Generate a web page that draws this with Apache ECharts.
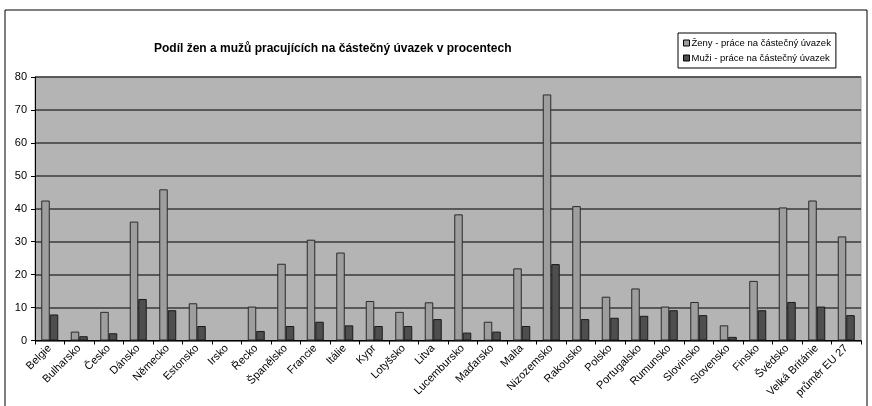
<!DOCTYPE html>
<html>
<head>
<meta charset="utf-8">
<script src="https://cdn.jsdelivr.net/npm/echarts@6/dist/echarts.min.js"></script>
<style>
html,body{margin:0;padding:0;background:#fff;}
#c{width:872px;height:406px;}
</style>
</head>
<body>
<div id="c"></div>
<script>
const categories = ["Belgie","Bulharsko","Česko","Dánsko","Německo","Estonsko","Irsko","Řecko","Španělsko","Francie","Itálie","Kypr","Lotyšsko","Litva","Lucembursko","Maďarsko","Malta","Nizozemsko","Rakousko","Polsko","Portugalsko","Rumunsko","Slovinsko","Slovensko","Finsko","Švédsko","Velká Británie","průměr EU 27"];
const zeny = [42.5,2.7,8.7,36.1,45.9,11.3,null,10.3,23.3,30.6,26.7,12.0,8.7,11.6,38.3,5.7,21.9,74.7,40.8,13.3,15.8,10.3,11.7,4.6,18.1,40.4,42.5,31.6];
const muzi = [7.9,1.3,2.2,12.6,9.2,4.4,null,2.9,4.4,5.7,4.6,4.4,4.4,6.5,2.4,2.7,4.4,23.2,6.5,6.9,7.5,9.2,7.7,1.1,9.2,11.7,10.3,7.7];
const yTicks = {min:0, max:80, interval:10};
const seriesNames = ["Ženy - práce na částečný úvazek","Muži - práce na částečný úvazek"];

const chart = echarts.init(document.getElementById('c'));
const font = '"Liberation Sans", Arial, sans-serif';
chart.setOption({
  animation:false,
  backgroundColor:'#fff',
  textStyle:{fontFamily:font},
  graphic:[{type:'rect',shape:{x:5,y:10,width:862,height:420},style:{fill:'none',stroke:'#000',lineWidth:1},silent:true}],
  title:{text:'Podíl žen a mužů pracujících na částečný úvazek v procentech',left:149,top:38,
    textStyle:{fontFamily:font,fontSize:12,fontWeight:'bold',color:'#000'}},
  legend:{orient:'vertical',left:678,top:33,itemWidth:6,itemHeight:6,itemGap:5,
    borderColor:'#000',borderWidth:1,padding:[5,5,5,5],backgroundColor:'#fff',
    icon:'rect',itemStyle:{borderColor:'#000',borderWidth:1},
    textStyle:{fontFamily:font,fontSize:9.5,color:'#000',padding:[0,0,0,-3]},
    data:seriesNames},
  grid:{left:35,right:11,top:77,bottom:65.5,show:true,backgroundColor:'#b4b4b4',borderColor:'#9a9a9a',borderWidth:1,containLabel:false},
  xAxis:{type:'category',data:categories,boundaryGap:true,
    axisLine:{lineStyle:{color:'#000',width:1}},
    axisTick:{show:true,alignWithLabel:false,length:4,lineStyle:{color:'#000'}},
    axisLabel:{rotate:45,interval:0,fontFamily:font,fontSize:11,color:'#000',margin:6}},
  yAxis:{type:'value',min:yTicks.min,max:yTicks.max,interval:yTicks.interval,
    axisLine:{show:true,lineStyle:{color:'#000',width:1}},
    axisTick:{show:true,length:4,lineStyle:{color:'#000'}},
    axisLabel:{fontFamily:font,fontSize:11,color:'#000',margin:8},
    splitLine:{lineStyle:{color:'#3a3a3a',width:1.5}}},
  series:[
    {name:seriesNames[0],type:'bar',data:zeny,barWidth:8.5,barGap:'0%',
      itemStyle:{color:'#9e9e9e',borderColor:'#2a2a2a',borderWidth:1}},
    {name:seriesNames[1],type:'bar',data:muzi,barWidth:8.5,barGap:'0%',
      itemStyle:{color:'#4e4e4e',borderColor:'#1a1a1a',borderWidth:1}}
  ]
});
</script>
</body>
</html>
